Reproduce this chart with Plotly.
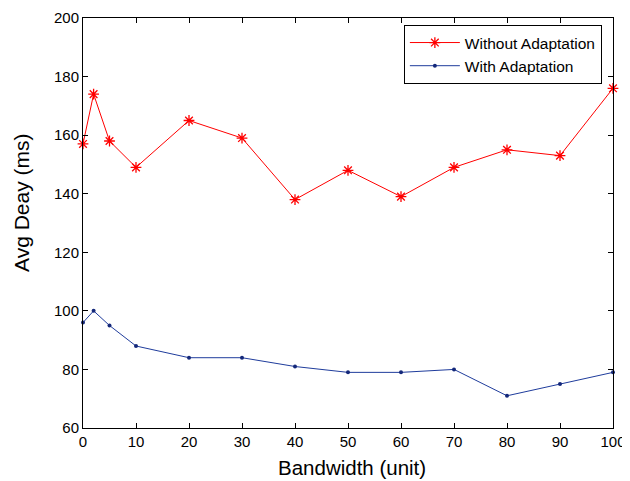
import plotly.graph_objects as go

bandwidth = [0, 2, 5, 10, 20, 30, 40, 50, 60, 70, 80, 90, 100]
without_adapt = [157, 174, 158, 149, 165, 159, 138, 148, 139, 149, 155, 153, 176]
with_adapt = [96, 100, 95, 88, 84, 84, 81, 79, 79, 80, 71, 75, 79]
x_ticks = [0, 10, 20, 30, 40, 50, 60, 70, 80, 90, 100]
y_ticks = [60, 80, 100, 120, 140, 160, 180, 200]
x_title = "Bandwidth (unit)"
y_title = "Avg Deay (ms)"

FONT = "Liberation Sans, Arial"

fig = go.Figure()
fig.add_trace(go.Scatter(
    x=bandwidth, y=without_adapt, mode="lines+markers", name="Without Adaptation",
    line=dict(color="#ff0000", width=1),
    marker=dict(symbol="asterisk-open", size=9, color="#ff0000", line=dict(color="#ff0000", width=1.3)),
    cliponaxis=False,
))
fig.add_trace(go.Scatter(
    x=bandwidth, y=with_adapt, mode="lines+markers", name="With Adaptation",
    line=dict(color="#1f3c9c", width=1),
    marker=dict(symbol="circle", size=4, color="#14287a"),
    cliponaxis=False,
))

axis_common = dict(
    showline=True, linecolor="black", linewidth=1, mirror="allticks",
    ticks="inside", ticklen=5, tickcolor="black", showgrid=False, zeroline=False,
    tickfont=dict(family=FONT, size=15, color="black"), automargin=False,
)
fig.update_xaxes(range=[0, 100], tickvals=x_ticks, **axis_common)
fig.update_yaxes(range=[60, 200], tickvals=y_ticks, **axis_common)

fig.add_annotation(text=x_title, xref="paper", yref="paper", x=0.5075, y=-0.097,
                   xanchor="center", yanchor="middle", showarrow=False,
                   font=dict(family=FONT, size=20.5, color="black"))
fig.add_annotation(text=y_title, xref="paper", yref="paper", x=-0.115, y=0.549,
                   xanchor="center", yanchor="middle", showarrow=False, textangle=-90,
                   font=dict(family=FONT, size=21, color="black"))

# The page body has an 8px margin, so the figure is sized/offset to compensate.
fig.update_layout(
    width=622, height=473,
    margin=dict(l=75, r=17, t=10, b=53, autoexpand=False),
    paper_bgcolor="white", plot_bgcolor="white",
    font=dict(family=FONT, color="black"),
    legend=dict(
        x=0.979, y=0.983, xanchor="right", yanchor="top",
        bordercolor="black", borderwidth=1, bgcolor="white",
        font=dict(family=FONT, size=15.5, color="black"),
        tracegroupgap=0, itemwidth=50,
    ),
    showlegend=True,
)

fig.write_html("out.html")
